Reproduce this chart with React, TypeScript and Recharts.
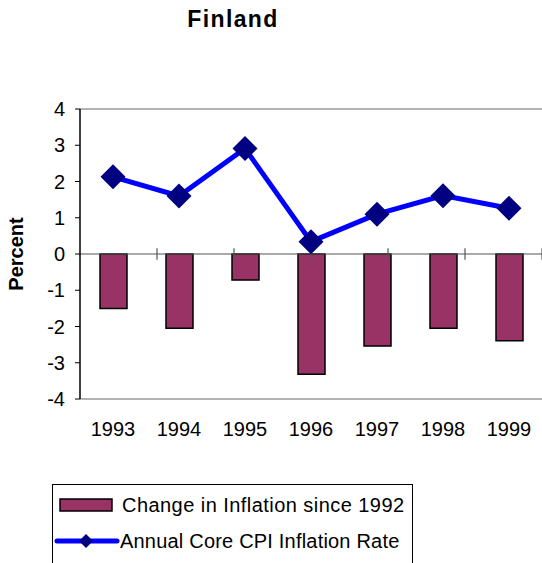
import {
  ComposedChart, Bar, Line, XAxis, YAxis, ReferenceLine,
} from 'recharts'

const years = ['1993', '1994', '1995', '1996', '1997', '1998', '1999']
const changeSince1992 = [-1.5, -2.05, -0.72, -3.32, -2.54, -2.05, -2.39]
const coreCpi = [2.13, 1.6, 2.91, 0.34, 1.1, 1.61, 1.26]
const yTicks = [-4, -3, -2, -1, 0, 1, 2, 3, 4]

const BAR_NAME = 'Change in Inflation since 1992'
const LINE_NAME = 'Annual Core CPI Inflation Rate'

const FONT = 'Arial, "Liberation Sans", sans-serif'
const BAR_COLOR = '#993366'
const LINE_COLOR = '#0000ff'
const MARKER_COLOR = '#000080'

const data = years.map((year, i) => ({
  year,
  change: changeSince1992[i],
  cpi: coreCpi[i],
}))

// category boundaries on the hidden 0..n axis, for the small ticks across the zero line
const boundaries = years.slice(1).map((_, i) => i + 1)

function Diamond(props: { cx?: number; cy?: number }) {
  const { cx, cy } = props
  if (cx == null || cy == null) return null
  const r = 12.5
  return (
    <polygon
      points={`${cx},${cy - r} ${cx + r},${cy} ${cx},${cy + r} ${cx - r},${cy}`}
      fill={MARKER_COLOR}
    />
  )
}

function LegendBox() {
  return (
    <div
      style={{
        position: 'absolute', left: 52, top: 484, width: 359, height: 100,
        border: '1px solid #000', background: '#fff', fontFamily: FONT,
      }}
    >
      <svg width={359} height={100} style={{ position: 'absolute', left: 0, top: 0 }}>
        <rect x={7} y={14} width={52} height={12} fill={BAR_COLOR} stroke="#000" strokeWidth={1.5} />
        <text x={69} y={20} dy="0.36em" fontSize={20} letterSpacing={0.45} fill="#000">
          {BAR_NAME}
        </text>
        <line x1={4} y1={56} x2={64} y2={56} stroke={LINE_COLOR} strokeWidth={5} strokeLinecap="round" />
        <polygon points="33,49 40,56 33,63 26,56" fill={MARKER_COLOR} />
        <text x={67} y={56} dy="0.36em" fontSize={20} letterSpacing={0.2} fill="#000">
          {LINE_NAME}
        </text>
      </svg>
    </div>
  )
}

export default function App() {
  return (
    <div
      style={{
        position: 'absolute', left: 0, top: 0, width: 542, height: 563,
        overflow: 'hidden', background: '#fff', fontFamily: FONT,
      }}
    >
      <div
        style={{
          position: 'absolute', left: 0, width: 466, top: 6, textAlign: 'center',
          fontSize: 23, fontWeight: 'bold', letterSpacing: 1.4, color: '#000',
        }}
      >
        Finland
      </div>
      <ComposedChart
        width={542}
        height={563}
        data={data}
        margin={{ top: 109, right: 0, left: 0, bottom: 124 }}
        style={{ position: 'absolute', left: 0, top: 0 }}
      >
        <XAxis
          dataKey="year"
          height={40}
          axisLine={false}
          tickLine={false}
          tickSize={6}
          tickMargin={17}
          tick={{ fontSize: 20, fill: '#000', fontFamily: FONT }}
          interval={0}
        />
        <XAxis xAxisId="bounds" type="number" domain={[0, years.length]} hide />
        <YAxis
          width={80}
          domain={[-4, 4]}
          ticks={yTicks}
          interval={0}
          axisLine={{ stroke: '#000', strokeWidth: 1.5 }}
          tickLine={{ stroke: '#000', strokeWidth: 1 }}
          tickSize={5}
          tickMargin={10}
          tick={{ fontSize: 20, fill: '#000', fontFamily: FONT }}
          label={{
            value: 'Percent', angle: -90, position: 'insideLeft', offset: 16,
            style: { fontSize: 20, fontWeight: 'bold', fill: '#000', fontFamily: FONT, textAnchor: 'middle' },
          }}
        />
        <ReferenceLine y={4} stroke="#999" strokeWidth={1.5} />
        <ReferenceLine y={-4} stroke="#999" strokeWidth={1.5} />
        <ReferenceLine y={0} stroke="#555" strokeWidth={1.2} />
        {boundaries.map((b) => (
          <ReferenceLine
            key={b}
            xAxisId="bounds"
            segment={[{ x: b, y: -0.16 }, { x: b, y: 0.16 }]}
            stroke="#555"
            strokeWidth={1.2}
          />
        ))}
        <Bar
          dataKey="change"
          name={BAR_NAME}
          fill={BAR_COLOR}
          stroke="#000"
          strokeWidth={1.5}
          barSize={27}
          isAnimationActive={false}
        />
        <Line
          dataKey="cpi"
          name={LINE_NAME}
          type="linear"
          stroke={LINE_COLOR}
          strokeWidth={5}
          dot={<Diamond />}
          activeDot={false}
          isAnimationActive={false}
        />
      </ComposedChart>
      <LegendBox />
    </div>
  )
}
